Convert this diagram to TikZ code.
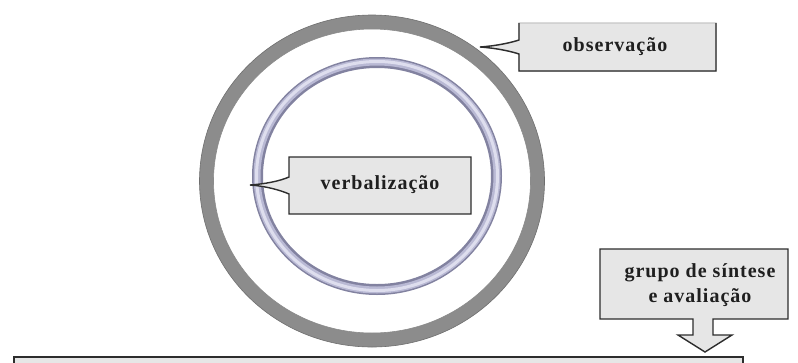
\documentclass[tikz,border=0pt]{standalone}
\usepackage{fontspec}
\setmainfont{Liberation Serif}
\definecolor{ringgray}{RGB}{140,140,140}
\definecolor{ringdark}{RGB}{110,110,110}
\definecolor{lavdark}{RGB}{130,130,160}
\definecolor{lavmid}{RGB}{185,185,212}
\definecolor{lavlight}{RGB}{222,222,238}
\definecolor{boxfill}{RGB}{230,230,230}
\definecolor{boxline}{RGB}{45,45,45}
\tikzset{
  callout/.style={fill=boxfill, draw=boxline, line width=1.4pt, line join=miter},
  lbl/.style={font=\bfseries\fontsize{20}{25}\selectfont\addfontfeatures{LetterSpace=5}, text=black!88, align=center, inner sep=0pt},
}
\begin{document}
\begin{tikzpicture}[x=1pt,y=-1pt]
\useasboundingbox (0,0) rectangle (798,362);
\begin{scope}
\clip (0,0) rectangle (798,362);
% outer ring
\coordinate (oc) at (372,181);
\draw[ringgray, line width=14pt] (oc) ellipse [x radius=165.5, y radius=159];
\draw[ringdark, line width=0.6pt] (oc) ellipse [x radius=172.5, y radius=166];
\draw[ringdark!80, line width=0.6pt] (oc) ellipse [x radius=158.5, y radius=152];
% inner ring
\coordinate (ic) at (377,176);
\draw[lavdark, line width=11pt] (ic) ellipse [x radius=119.5, y radius=113.5];
\draw[lavmid, line width=7pt] (ic) ellipse [x radius=120, y radius=114];
\draw[lavlight, line width=3pt] (ic) ellipse [x radius=120.5, y radius=114.5];
% verbalizacao callout
\draw[callout] (289,157) -- (471,157) -- (471,214) -- (289,214) -- (289,194)
  .. controls (280,190) and (265,186) .. (250,185)
  .. controls (265,184) and (280,181) .. (289,177) -- cycle;
\node[lbl] (verb) at (380,185) {verbalização};
% observacao callout
\path[fill=boxfill, draw=gray!45, line width=1.2pt] (519,23) -- (716,23) -- (716,71) -- (519,71) -- (519,54)
  .. controls (510,51) and (495,48) .. (480,47)
  .. controls (495,46) and (510,43) .. (519,40) -- cycle;
\draw[boxline, line width=1.4pt, line join=miter] (716,23) -- (716,71) -- (519,71) -- (519,54)
  .. controls (510,51) and (495,48) .. (480,47)
  .. controls (495,46) and (510,43) .. (519,40) -- (519,23);
\node[lbl] (obs) at (615,47) {observação};
% bottom box
\draw[fill=boxfill, draw=boxline, line width=2.5pt] (14,357) rectangle (743,390);
% grupo callout with down arrow
\draw[callout] (600,249) -- (788,249) -- (788,319) -- (713,319) -- (713,335) -- (732,335)
  -- (705,352) -- (678,335) -- (693,335) -- (693,319) -- (600,319) -- cycle;
\node[lbl] (grupo) at (700,285) {grupo de síntese\\e avaliação};
\end{scope}
\end{tikzpicture}
\end{document}
